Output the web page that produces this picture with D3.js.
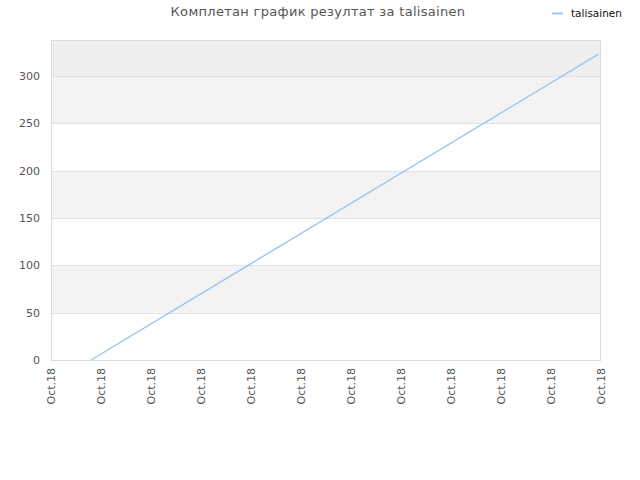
<!DOCTYPE html>
<html><head><meta charset="utf-8">
<script src="https://cdn.jsdelivr.net/npm/d3@7"></script>
<style>body{margin:0;background:#fff}</style>
</head><body>
<svg id="c" width="640" height="480"></svg>
<script>
const title = "Комплетан график резултат за talisainen";
const seriesName = "talisainen";
const xTickLabels = ["Oct.18","Oct.18","Oct.18","Oct.18","Oct.18","Oct.18","Oct.18","Oct.18","Oct.18","Oct.18","Oct.18","Oct.18"];
const pointX = [0.8, 10.96];
const pointY = [0, 323];
const yTicks = [0, 50, 100, 150, 200, 250, 300];
const yMax = 338;

const svg = d3.select("#c");
const m = {l:51, r:600, t:40, b:360};
const x = d3.scaleLinear().domain([0, 11]).range([m.l, m.r + 0.5]);
const y = d3.scaleLinear().domain([0, yMax]).range([m.b, m.t]);

// bands
const bands = [];
for (let i = 0; i < yTicks.length; i++) {
  const lo = yTicks[i], hi = i + 1 < yTicks.length ? yTicks[i+1] : yMax;
  let fill = i % 2 === 0 ? "#ffffff" : "#f3f3f3";
  if (i === yTicks.length - 1) fill = "#eeeeee";
  bands.push({lo, hi, fill});
}
svg.selectAll("rect.band").data(bands).join("rect")
  .attr("x", m.l).attr("width", m.r - m.l)
  .attr("y", d => y(d.hi)).attr("height", d => y(d.lo) - y(d.hi))
  .attr("fill", d => d.fill);

// grid lines
svg.selectAll("line.grid").data(yTicks.slice(1)).join("line")
  .attr("x1", m.l).attr("x2", m.r)
  .attr("y1", d => Math.round(y(d)) + 0.5).attr("y2", d => Math.round(y(d)) + 0.5)
  .attr("stroke", "#e2e2e2");

// border
svg.append("rect").attr("x", m.l + 0.5).attr("y", m.t + 0.5)
  .attr("width", m.r - m.l).attr("height", m.b - m.t)
  .attr("fill", "none").attr("stroke", "#dcdcdc");

// y axis labels
const yAxis = d3.axisLeft(y).tickValues(yTicks).tickSize(0).tickPadding(11);
const ya = svg.append("g").attr("transform", `translate(${m.l},0)`).call(yAxis);
ya.select(".domain").remove();
ya.selectAll("text").attr("fill", "#555").style("font-family", "DejaVu Sans, sans-serif").style("font-size", "11px");

// x axis labels
const xAxis = d3.axisBottom(x).tickValues(d3.range(xTickLabels.length)).tickFormat(i => xTickLabels[i]).tickSize(0);
const xa = svg.append("g").attr("transform", `translate(0,${m.b})`).call(xAxis);
xa.select(".domain").remove();
xa.selectAll("text").attr("fill", "#555")
  .style("font-family", "DejaVu Sans, sans-serif").style("font-size", "11px")
  .attr("text-anchor", "end").attr("dy", "0.35em")
  .attr("transform", "translate(0,8) rotate(-90)").attr("y", 0).attr("x", 0);

// line
const pts = pointX.map((v, i) => [v, pointY[i]]);
svg.append("path").datum(pts)
  .attr("d", d3.line().x(d => x(d[0])).y(d => y(d[1])))
  .attr("fill", "none").attr("stroke", "#97c5f3").attr("stroke-width", 1.4);

// title
svg.append("text").attr("x", 318).attr("y", 16).attr("text-anchor", "middle")
  .attr("fill", "#555").style("font-family", "DejaVu Sans, sans-serif").style("font-size", "13px")
  .style("letter-spacing", "0.3px")
  .text(title);

// legend
svg.append("line").attr("x1", 552).attr("x2", 563).attr("y1", 13.5).attr("y2", 13.5)
  .attr("stroke", "#97c5f3").attr("stroke-width", 1.8);
svg.append("text").attr("x", 571).attr("y", 17).attr("fill", "#111")
  .style("font-family", "DejaVu Sans, sans-serif").style("font-size", "10.5px").text(seriesName);
</script>
</body></html>
